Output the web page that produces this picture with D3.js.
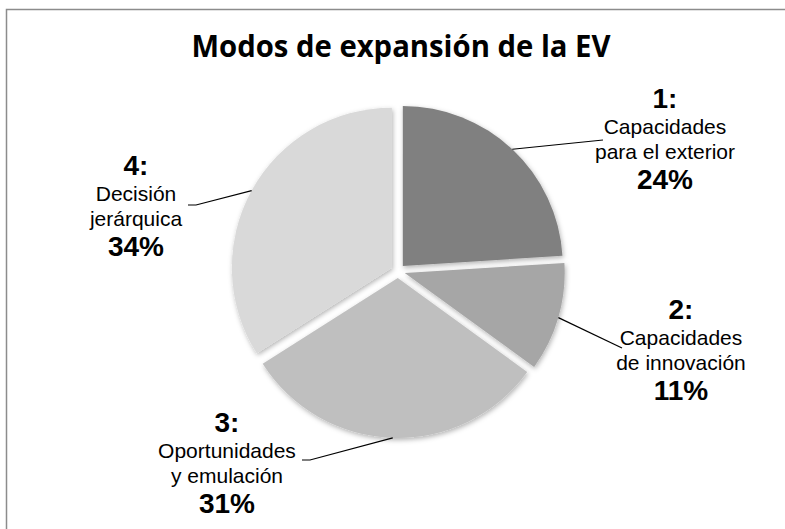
<!DOCTYPE html>
<html>
<head>
<meta charset="utf-8">
<script src="https://cdn.jsdelivr.net/npm/d3@7"></script>
<style>
  body { margin: 0; background: #fff; }
  svg { display: block; }
</style>
</head>
<body>
<script>
(function () {
  "use strict";
  var w = 785,
      h = 529;

  // data
  var ids = ["1:", "2:", "3:", "4:"];
  var names = [
    ["Capacidades", "para el exterior"],
    ["Capacidades", "de innovación"],
    ["Oportunidades", "y emulación"],
    ["Decisión", "jerárquica"]
  ];
  var shares = [24, 11, 31, 34];
  var greys = ["#808080", "#a6a6a6", "#bfbfbf", "#d9d9d9"];

  // label layout: text centre x, first baseline y, leader end points
  var labelPos = [
    { x: 665, y: 108, end: [[603, 140]] },
    { x: 681, y: 319, end: [[622, 348]] },
    { x: 227, y: 432, end: [[310, 460], [302, 460]] },
    { x: 136, y: 175, end: [[196, 205], [188, 205]] }
  ];

  var cx = 398, cy = 271, r = 160, explode = 7;

  var svg = d3.select("body")
              .append("svg")
              .attr("width", w)
              .attr("height", h);

  var defs = svg.append("defs");
  var f = defs.append("filter")
              .attr("id", "soft")
              .attr("x", "-20%").attr("y", "-20%")
              .attr("width", "140%").attr("height", "140%");
  f.append("feGaussianBlur").attr("in", "SourceAlpha").attr("stdDeviation", 2.5).attr("result", "b");
  f.append("feOffset").attr("in", "b").attr("dx", 1).attr("dy", 2).attr("result", "o");
  f.append("feFlood").attr("flood-color", "#000").attr("flood-opacity", 0.3).attr("result", "c");
  f.append("feComposite").attr("in", "c").attr("in2", "o").attr("operator", "in").attr("result", "s");
  f.append("feGaussianBlur").attr("in", "SourceGraphic").attr("stdDeviation", 0.7).attr("result", "g");
  var m = f.append("feMerge");
  m.append("feMergeNode").attr("in", "s");
  m.append("feMergeNode").attr("in", "g");

  // frame (cropped on right and bottom)
  svg.append("rect")
     .attr("x", 6.5).attr("y", 9.5)
     .attr("width", 900).attr("height", 600)
     .attr("fill", "#fff")
     .attr("stroke", "#8c8c8c")
     .attr("stroke-width", 1.5);

  svg.append("text")
     .attr("x", 401).attr("y", 57)
     .attr("text-anchor", "middle")
     .attr("font-family", "'Open Sans', sans-serif")
     .attr("font-weight", "bold")
     .attr("font-size", 31)
     .attr("textLength", 419)
     .attr("lengthAdjust", "spacingAndGlyphs")
     .text("Modos de expansión de la EV");

  var pie = d3.pie().sort(null).value(d => d);
  var arcs = pie(shares);
  var arc = d3.arc().innerRadius(0).outerRadius(r);
  var edge = d3.arc().innerRadius(r).outerRadius(r);

  function shift(d) {
    var a = (d.startAngle + d.endAngle) / 2;
    return [cx + Math.sin(a) * explode, cy - Math.cos(a) * explode];
  }

  svg.selectAll("path.slice")
     .data(arcs)
     .enter()
     .append("path")
     .attr("class", "slice")
     .attr("transform", d => "translate(" + shift(d) + ")")
     .attr("d", arc)
     .attr("fill", (d, i) => greys[i])
     .attr("filter", "url(#soft)");

  // leader lines
  svg.selectAll("polyline.lead")
     .data(arcs)
     .enter()
     .append("polyline")
     .attr("class", "lead")
     .attr("fill", "none")
     .attr("stroke", "#000")
     .attr("stroke-width", 1.2)
     .attr("points", (d, i) => {
       var s = shift(d), c = edge.centroid(d);
       var pts = [[s[0] + c[0], s[1] + c[1]]].concat(labelPos[i].end);
       return pts.map(p => p.join(",")).join(" ");
     });

  var lab = svg.selectAll("g.lab")
               .data(arcs)
               .enter()
               .append("g")
               .attr("class", "lab")
               .attr("font-family", "'Liberation Sans', Arial, sans-serif")
               .attr("text-anchor", "middle")
               .attr("fill", "#000");

  lab.append("text")
     .attr("x", (d, i) => labelPos[i].x)
     .attr("y", (d, i) => labelPos[i].y)
     .attr("font-weight", "bold")
     .attr("font-size", 28)
     .text((d, i) => ids[i]);

  lab.append("text")
     .attr("x", (d, i) => labelPos[i].x)
     .attr("y", (d, i) => labelPos[i].y + 26)
     .attr("font-size", 21)
     .text((d, i) => names[i][0]);

  lab.append("text")
     .attr("x", (d, i) => labelPos[i].x)
     .attr("y", (d, i) => labelPos[i].y + 51)
     .attr("font-size", 21)
     .text((d, i) => names[i][1]);

  lab.append("text")
     .attr("x", (d, i) => labelPos[i].x)
     .attr("y", (d, i) => labelPos[i].y + 81)
     .attr("font-weight", "bold")
     .attr("font-size", 28)
     .text((d, i) => shares[i] + "%");
})();
</script>
</body>
</html>
